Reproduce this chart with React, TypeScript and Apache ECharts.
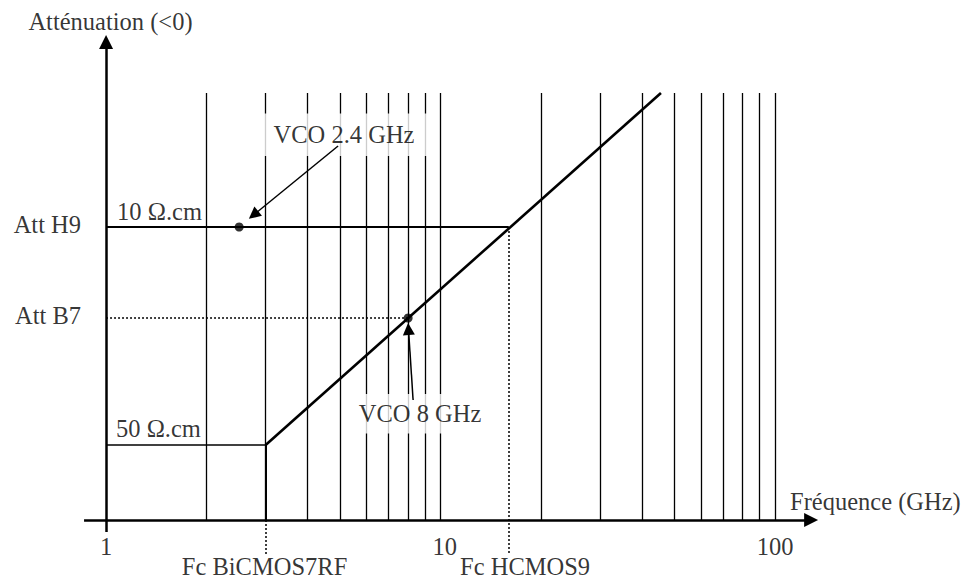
import React, { useEffect, useRef } from 'react';
import * as echarts from 'echarts';

// Frequencies (GHz) of the vertical log grid lines
const gridFrequencies = [2, 3, 4, 5, 6, 7, 8, 9, 10, 20, 30, 40, 50, 60, 70, 80, 90, 100];
const gridTopLevel = 427;

// Attenuation levels (arbitrary units, 0 = frequency axis)
const levelH9 = 293; // Att H9 / 10 Ω.cm
const levelB7 = 202; // Att B7
const level50 = 75; // 50 Ω.cm

// Cut-off frequencies (GHz)
const fcBiCMOS7RF = 3;
const fcHCMOS9 = 16;

// 50 Ω.cm curve: flat to Fc BiCMOS7RF then rising
const curve50Freq = [1, 3, 45.6];
const curve50Att = [75, 75, 427];

// 10 Ω.cm curve (flat up to Fc HCMOS9)
const curve10Freq = [1, 16];
const curve10Att = [293, 293];

// VCO points
const vcoFreq = [2.5, 8];
const vcoAtt = [293, 202];

// Annotation arrows: [startF, startAtt, endF, endAtt]
const arrow24 = [4.94, 374, 2.76, 305];
const arrow8 = [8.28, 120, 8.02, 191];

// Axes extents
const xAxisStart = 0.8595;
const xAxisEnd = 128.2;
const yAxisStart = -12;
const yAxisEnd = 478;
const dottedBottom = -35;

// Tick labels of frequency axis
const tickValues = [1, 10.3, 100];
const tickLabels = ['1', '10', '100'];

// Text annotations
const annTexts = ['Atténuation (<0)', 'Att H9', 'Att B7', '10 Ω.cm', '50 Ω.cm', 'Fc BiCMOS7RF', 'Fc HCMOS9', 'Fréquence (GHz)'];
const annFreq = [1.031, 0.8418, 0.8418, 1.079, 1.071, 2.978, 11.44, 110.9];
const annAtt = [498.3, 296, 205, 308.5, 91.6, -46.8, -46.8, 18.3];
const annAlign = ['center', 'right', 'right', 'left', 'left', 'center', 'left', 'left'];

// Boxed VCO labels
const vcoLabelTexts = ['VCO 2.4 GHz', 'VCO 8 GHz'];
const vcoLabelFreq = [5.146, 8.685];
const vcoLabelAtt = [385.3, 106.3];
const vcoLabelPadding = [[9, 16, 9, 16], [10, 12, 5, 12]];

const tickLabelAtt = -26.7;

const FONT = 'Liberation Serif';
const FS = 24.5;

export default function App() {
  const ref = useRef<HTMLDivElement>(null);
  useEffect(() => {
    if (!ref.current) return;
    const chart = echarts.init(ref.current, null, { renderer: 'svg' });

    const pairs = (fs: number[], as: number[]) => fs.map((f, i) => [f, as[i]]);

    const textStyle = {
      fontFamily: FONT,
      fontSize: FS,
      color: '#000',
      textBorderWidth: 0,
      textShadowBlur: 0,
      lineHeight: 18,
    };

    const labelData: any[] = [];
    annTexts.forEach((t, i) => {
      labelData.push({
        value: [annFreq[i], annAtt[i]],
        label: { show: true, position: 'inside', formatter: t, align: annAlign[i], verticalAlign: 'middle', ...textStyle },
      });
    });
    tickValues.forEach((v, i) => {
      labelData.push({
        value: [v, tickLabelAtt],
        label: { show: true, position: 'inside', formatter: tickLabels[i], align: 'center', verticalAlign: 'middle', ...textStyle },
      });
    });
    const boxData = vcoLabelTexts.map((t, i) => ({
      value: [vcoLabelFreq[i], vcoLabelAtt[i]],
      label: {
        show: true,
        position: 'inside',
        formatter: t,
        align: 'center',
        verticalAlign: 'middle',
        backgroundColor: '#fff',
        ...textStyle,
        lineHeight: FS,
        padding: vcoLabelPadding[i],
      },
    }));

    chart.setOption({
      animation: false,
      backgroundColor: '#fff',
      grid: { left: 0, right: 0, top: 0, bottom: 0 },
      xAxis: { type: 'log', logBase: 10, min: 0.4819, max: 372.4, show: false },
      yAxis: { type: 'value', min: -59, max: 520, show: false },
      series: [
        {
          type: 'lines',
          coordinateSystem: 'cartesian2d',
          silent: true,
          z: 1,
          lineStyle: { color: '#000', width: 1.3, opacity: 1 },
          data: gridFrequencies.map((f) => ({ coords: [[f, 0], [f, gridTopLevel]] })),
        },
        {
          type: 'lines',
          coordinateSystem: 'cartesian2d',
          silent: true,
          z: 2,
          lineStyle: { color: '#000', width: 1.5, opacity: 1, type: [2, 2] },
          data: [
            { coords: [[1, levelB7], [vcoFreq[1], levelB7]] },
            { coords: [[fcHCMOS9, levelH9], [fcHCMOS9, dottedBottom]] },
            { coords: [[fcBiCMOS7RF, 0], [fcBiCMOS7RF, dottedBottom]] },
          ],
        },
        {
          type: 'lines',
          coordinateSystem: 'cartesian2d',
          silent: true,
          z: 2,
          data: [
            { coords: pairs(curve10Freq, curve10Att), lineStyle: { color: '#000', width: 2, opacity: 1 } },
            { coords: pairs(curve50Freq.slice(0, 2), curve50Att.slice(0, 2)), lineStyle: { color: '#000', width: 1.6, opacity: 1 } },
            { coords: pairs(curve50Freq.slice(1), curve50Att.slice(1)), lineStyle: { color: '#000', width: 2.6, opacity: 1 } },
            { coords: [[fcBiCMOS7RF, 0], [fcBiCMOS7RF, level50]], lineStyle: { color: '#000', width: 2, opacity: 1 } },
          ],
        },
        {
          type: 'lines',
          coordinateSystem: 'cartesian2d',
          silent: true,
          z: 4,
          symbol: ['none', 'triangle'],
          symbolSize: 14,
          itemStyle: { color: '#000' },
          lineStyle: { color: '#000', width: 2.5, opacity: 1 },
          data: [
            { coords: [[xAxisStart, 0], [xAxisEnd, 0]] },
            { coords: [[1, yAxisStart], [1, yAxisEnd]] },
          ],
        },
        {
          type: 'scatter',
          silent: true,
          z: 3,
          symbolSize: 0,
          data: [...labelData, ...boxData],
        },
        {
          type: 'lines',
          coordinateSystem: 'cartesian2d',
          silent: true,
          z: 5,
          symbol: ['none', 'triangle'],
          symbolSize: 12,
          itemStyle: { color: '#000' },
          lineStyle: { color: '#000', width: 1.5, opacity: 1 },
          data: [
            { coords: [[arrow24[0], arrow24[1]], [arrow24[2], arrow24[3]]] },
            { coords: [[arrow8[0], arrow8[1]], [arrow8[2], arrow8[3]]] },
          ],
        },
        {
          type: 'scatter',
          silent: true,
          z: 6,
          symbol: 'circle',
          symbolSize: 9,
          itemStyle: { color: '#000' },
          data: pairs(vcoFreq, vcoAtt),
        },
      ],
    });
    return () => chart.dispose();
  }, []);
  return (
    <div
      ref={ref}
      style={{ position: 'absolute', left: 0, top: 0, width: 966, height: 579, background: '#fff' }}
    />
  );
}
